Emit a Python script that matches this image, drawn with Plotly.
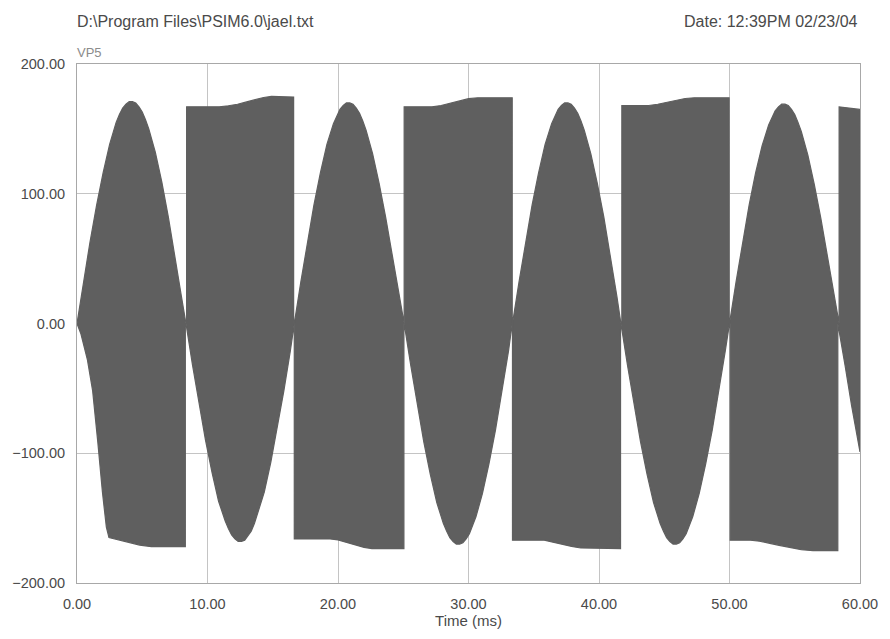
import plotly.graph_objects as go

# Envelope of the switched output voltage VP5 (time in ms, voltage in V).
# Upper boundary: positive sine lobes alternating with flat switching blocks.
upper_t = [
    # lobe 1
    0.0, 0.5, 1.0, 1.5, 2.0, 2.5, 3.0, 3.25, 3.5, 3.75, 4.0, 4.25, 4.5, 4.75, 5.0, 5.25, 5.5,
    6.0, 6.5, 7.0, 7.5, 8.0, 8.35,
    # block 2
    8.4, 8.4, 10.9, 11.6, 12.3, 13.0, 13.7, 14.3, 14.9, 16.6, 16.6,
    # lobe 3
    16.65, 17.15, 17.65, 18.15, 18.65, 19.15, 19.65, 19.9, 20.15, 20.4, 20.65, 20.9, 21.15,
    21.4, 21.65, 21.9, 22.15, 22.65, 23.15, 23.65, 24.15, 24.65, 25.05,
    # block 4
    25.07, 25.07, 27.2, 27.9, 28.6, 29.3, 30.0, 30.7, 33.35, 33.35,
    # lobe 5
    33.37, 33.87, 34.37, 34.87, 35.37, 35.87, 36.37, 36.62, 36.87, 37.12, 37.37, 37.62, 37.87,
    38.12, 38.37, 38.62, 38.87, 39.37, 39.87, 40.37, 40.87, 41.37, 41.68,
    # block 6
    41.75, 41.75, 43.8, 44.5, 45.2, 45.9, 46.6, 47.3, 49.97, 49.97,
    # lobe 7
    50.0, 50.5, 51.0, 51.5, 52.0, 52.5, 53.0, 53.25, 53.5, 53.75, 54.0, 54.25, 54.5, 54.75,
    55.0, 55.25, 55.5, 56.0, 56.5, 57.0, 57.5, 58.0, 58.35,
    # block 8
    58.4, 58.4, 60.0,
]
upper_v = [
    0, 32, 63, 91, 116, 138, 155, 161, 166, 169, 171, 171, 170, 167, 163, 157, 150,
    132, 109, 82, 53, 21, 0,
    0, 167, 167, 167.8, 169, 170.8, 172.8, 174.2, 175, 174.5, 0,
    0, 32, 63, 91, 116, 138, 154, 160, 165, 168, 170, 170, 169,
    166, 162, 156, 149, 131, 108, 82, 53, 21, 0,
    0, 167, 167, 168, 169.8, 171.8, 173.3, 174, 174, 0,
    0, 32, 63, 91, 116, 138, 154, 160, 165, 168, 170, 170, 169,
    166, 162, 156, 149, 131, 108, 82, 53, 21, 0,
    0, 168, 168, 169, 170.6, 172.2, 173.4, 174, 174, 0,
    0, 32, 63, 91, 116, 137, 153, 159, 164, 167, 169, 169, 168, 165,
    161, 155, 148, 130, 107, 81, 52, 21, 0,
    0, 167, 165,
]

# Lower boundary: flat negative blocks alternating with negative sine lobes.
lower_t = [
    # block 1
    0.0, 0.3, 0.8, 1.2, 1.6, 1.95, 2.25, 2.45, 3.0, 3.8, 4.8, 5.7, 8.3, 8.3,
    # lobe 2
    8.35, 8.85, 9.35, 9.85, 10.35, 10.85, 11.35, 11.6, 11.85, 12.1, 12.35, 12.6, 12.85, 13.1,
    13.35, 13.6, 13.85, 14.35, 14.85, 15.35, 15.85, 16.35, 16.65,
    # block 3
    16.65, 16.65, 19.4, 20.0, 20.7, 21.4, 22.0, 22.6, 25.05, 25.05,
    # lobe 4
    25.07, 25.57, 26.07, 26.57, 27.07, 27.57, 28.07, 28.32, 28.57, 28.82, 29.07, 29.32, 29.57,
    29.82, 30.07, 30.32, 30.57, 31.07, 31.57, 32.07, 32.57, 33.07, 33.35,
    # block 5
    33.37, 33.37, 35.8, 36.5, 37.2, 37.9, 38.6, 39.3, 41.65, 41.65,
    # lobe 6
    41.68, 42.18, 42.68, 43.18, 43.68, 44.18, 44.68, 44.93, 45.18, 45.43, 45.68, 45.93, 46.18,
    46.43, 46.68, 46.93, 47.18, 47.68, 48.18, 48.68, 49.18, 49.68, 50.0,
    # block 7
    50.05, 50.05, 51.6, 52.3, 53.0, 53.8, 54.6, 55.5, 56.4, 58.3, 58.3,
    # lobe 8
    58.35, 58.85, 59.35, 59.85, 60.0,
]
lower_v = [
    0, -8, -28, -52, -92, -130, -157, -165, -166.5, -168.5, -170.8, -172, -172, 0,
    0, -32, -62, -90, -115, -137, -152, -158, -163, -166, -168, -168, -167, -164,
    -160, -154, -147, -130, -107, -81, -52, -21, 0,
    0, -166, -166, -166.8, -168.5, -170.8, -172.6, -173.5, -173.5, 0,
    0, -32, -63, -91, -116, -138, -154, -160, -165, -168, -170, -170, -169,
    -166, -162, -156, -149, -131, -108, -82, -53, -21, 0,
    0, -167, -167, -168.2, -170, -171.8, -173, -173.5, -173.5, 0,
    0, -32, -63, -91, -116, -138, -154, -160, -165, -168, -170, -170, -169,
    -166, -162, -156, -149, -131, -108, -82, -53, -21, 0,
    0, -167, -167, -167.8, -169.2, -171, -172.8, -174.3, -175, -175, 0,
    0, -32, -63, -91, -99,
]

x_ticks = [0, 10, 20, 30, 40, 50, 60]
y_ticks = [-200, -100, 0, 100, 200]

FILL = "#5f5f5f"
TEXT = "#4a4a4a"
FONT = "Liberation Sans, Arial, sans-serif"

# Closed polygon: along the upper boundary, back along the lower one.
poly_x = upper_t + lower_t[::-1]
poly_y = upper_v + lower_v[::-1]

fig = go.Figure()
fig.add_trace(go.Scatter(
    x=poly_x, y=poly_y,
    mode="lines",
    fill="toself",
    fillcolor=FILL,
    line=dict(color=FILL, width=1.2),
    hoverinfo="skip",
    showlegend=False,
))

L, R, T, B = 73, 22, 64, 47
W, H = 890, 639
pw, ph = W - L - R, H - T - B


def px(xp):
    return (xp - L) / pw


def py(yp):
    return (H - B - yp) / ph


axis_common = dict(
    showgrid=True,
    gridcolor="#c4c4c4",
    gridwidth=1,
    zeroline=False,
    showline=True,
    linecolor="#a8a8a8",
    linewidth=1,
    mirror=True,
    ticks="",
    tickformat=".2f",
    tickfont=dict(family=FONT, size=14.5, color=TEXT),
    ticklabelstandoff=8,
)

fig.update_layout(
    width=W, height=H,
    margin=dict(l=L, r=R, t=T, b=B),
    paper_bgcolor="white",
    plot_bgcolor="white",
    xaxis=dict(
        range=[0, 60], tickvals=x_ticks,
        title=dict(text="Time (ms)", font=dict(family=FONT, size=15, color=TEXT), standoff=4),
        **axis_common,
    ),
    yaxis=dict(
        range=[-200, 200], tickvals=y_ticks,
        **axis_common,
    ),
    annotations=[
        dict(text=r"D:\Program Files\PSIM6.0\jael.txt", xref="paper", yref="paper",
             x=px(71), y=py(21), xanchor="left", yanchor="middle", showarrow=False,
             font=dict(family=FONT, size=16, color=TEXT)),
        dict(text="Date: 12:39PM 02/23/04", xref="paper", yref="paper",
             x=px(868), y=py(21), xanchor="right", yanchor="middle", showarrow=False,
             font=dict(family=FONT, size=16, color=TEXT)),
        dict(text="VP5", xref="paper", yref="paper",
             x=px(71), y=py(52), xanchor="left", yanchor="middle", showarrow=False,
             font=dict(family=FONT, size=13, color="#8c8c8c")),
    ],
)

fig.write_html("out.html")
